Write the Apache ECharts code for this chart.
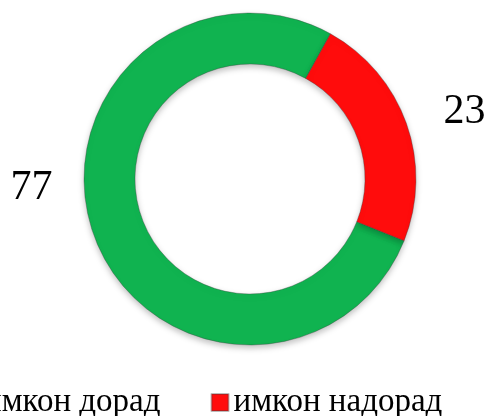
<!DOCTYPE html>
<html><head><meta charset="utf-8">
<script src="https://cdn.jsdelivr.net/npm/echarts@6/dist/echarts.min.js"></script>
<style>html,body{margin:0;padding:0;background:#fff}#c{width:489px;height:416px}</style>
</head><body><div id="c"></div>
<script>
const categories = ['имкон дорад', 'имкон надорад'];
const values = [77, 23];
const colors = ['#10b350', '#ff0c0c'];

const chart = echarts.init(document.getElementById('c'), null, {renderer: 'canvas'});
chart.setOption({
  animation: false,
  legend: {
    data: categories,
    left: -44,
    top: 381,
    itemWidth: 17,
    itemHeight: 17,
    itemGap: 50,
    icon: 'rect',
    textStyle: {fontFamily: 'Liberation Serif', fontSize: 33, color: '#000'}
  },
  series: [{
    type: 'pie',
    center: [250, 179],
    radius: [115, 166],
    startAngle: -21.8,
    clockwise: true,
    avoidLabelOverlap: false,
    data: categories.map((c, i) => ({name: c, value: values[i], itemStyle: {color: colors[i]}})),
    itemStyle: {
      borderColor: 'rgba(60,60,60,0.35)',
      borderWidth: 1,
      shadowBlur: 6,
      shadowOffsetY: 3,
      shadowColor: 'rgba(0,0,0,0.25)'
    },
    label: {
      show: true,
      position: 'outside',
      formatter: '{c}',
      fontFamily: 'Liberation Serif',
      fontSize: 42,
      color: '#000'
    },
    labelLine: {show: false, length: 34, length2: 0},
    labelLayout: function (p) {
      if (p.dataIndex === 0) return {dy: -58, dx: -4};
      return {};
    },
    emphasis: {disabled: true}
  }]
});
</script></body></html>
